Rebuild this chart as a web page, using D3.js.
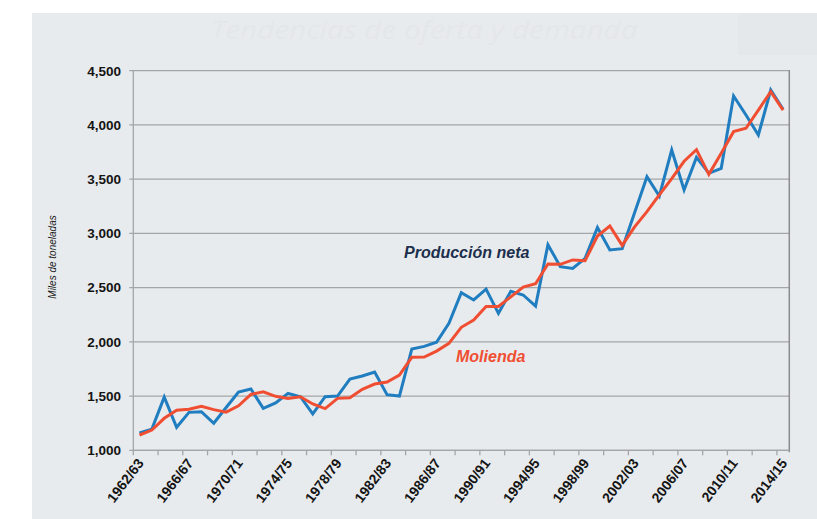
<!DOCTYPE html>
<html>
<head>
<meta charset="utf-8">
<script src="https://cdn.jsdelivr.net/npm/d3@7"></script>
<style>
  html, body { margin: 0; padding: 0; background: #ffffff; }
  svg { display: block; }
</style>
</head>
<body>
<svg id="chart" width="817" height="519"></svg>
<script>
// ---- data ----
const categories = [
  "1962/63","1963/64","1964/65","1965/66","1966/67","1967/68","1968/69","1969/70",
  "1970/71","1971/72","1972/73","1973/74","1974/75","1975/76","1976/77","1977/78",
  "1978/79","1979/80","1980/81","1981/82","1982/83","1983/84","1984/85","1985/86",
  "1986/87","1987/88","1988/89","1989/90","1990/91","1991/92","1992/93","1993/94",
  "1994/95","1995/96","1996/97","1997/98","1998/99","1999/00","2000/01","2001/02",
  "2002/03","2003/04","2004/05","2005/06","2006/07","2007/08","2008/09","2009/10",
  "2010/11","2011/12","2012/13","2013/14","2014/15"
];
const produccionNeta = [
  1160,1195,1490,1212,1350,1356,1249,1395,1537,1565,1387,1437,1525,1494,1335,1494,
  1500,1657,1685,1722,1513,1500,1934,1958,1996,2171,2453,2386,2486,2263,2466,2432,
  2330,2896,2693,2676,2770,3055,2847,2859,3190,3523,3345,3769,3400,3701,3554,3600,
  4267,4092,3907,4322,4144
];
const molienda = [
  1141,1187,1295,1370,1378,1405,1375,1352,1410,1515,1540,1498,1478,1494,1427,1384,
  1479,1485,1562,1611,1630,1694,1857,1860,1915,1986,2134,2201,2326,2326,2415,2505,
  2536,2718,2715,2755,2748,2976,3068,2889,3060,3200,3356,3505,3665,3772,3544,3738,
  3938,3969,4137,4306,4137
];
const yTicks = [1000,1500,2000,2500,3000,3500,4000,4500];
const xLabels = ["1962/63","1966/67","1970/71","1974/75","1978/79","1982/83","1986/87",
  "1990/91","1994/95","1998/99","2002/03","2006/07","2010/11","2014/15"];
const titleText = "Tendencias de oferta y demanda";
const yTitle = "Miles de toneladas";
const seriesLabels = ["Producción neta", "Molienda"];

// ---- layout ----
const svg = d3.select("#chart");
const L = 133.3, R = 789.3, T = 70.7, B = 450.3;
const font = "'Liberation Sans', Arial, sans-serif";

// background panel
svg.append("rect").attr("x", 32).attr("y", 13).attr("width", 817 - 32).attr("height", 519 - 13)
  .attr("fill", "#e8ebed");
svg.append("rect").attr("x", 738).attr("y", 14).attr("width", 79).attr("height", 41)
  .attr("fill", "#e5e8ea");

// faint title
svg.append("text").attr("x", 424).attr("y", 39).attr("text-anchor", "middle")
  .attr("font-family", "'Open Sans', sans-serif").attr("font-style", "italic")
  .attr("font-size", 26).attr("fill", "#e4e7e9")
  .attr("textLength", 427).attr("lengthAdjust", "spacingAndGlyphs")
  .text(titleText);

const x = d3.scaleBand().domain(categories).range([L, R]).padding(0);
const y = d3.scaleLinear().domain([1000, 4500]).range([B, T]);
const bw = x.bandwidth();
const cx = c => x(c) + bw / 2;

// gridlines + left ticks
const gridColor = "#a3a6a8";
svg.append("g").selectAll("line").data(yTicks).join("line")
  .attr("x1", L - 4).attr("x2", R).attr("y1", d => y(d)).attr("y2", d => y(d))
  .attr("stroke", gridColor).attr("stroke-width", 1.3);

// y labels
svg.append("g").selectAll("text").data(yTicks).join("text")
  .attr("x", 121).attr("y", d => y(d)).attr("dy", "0.36em")
  .attr("text-anchor", "end").attr("font-family", font).attr("font-weight", "bold")
  .attr("font-size", 13.5).attr("fill", "#141414")
  .text(d => d3.format(",")(d));

// axes frame
svg.append("line").attr("x1", L).attr("x2", L).attr("y1", T).attr("y2", B)
  .attr("stroke", gridColor).attr("stroke-width", 1.3);
svg.append("line").attr("x1", R).attr("x2", R).attr("y1", T - 0.6).attr("y2", B + 2)
  .attr("stroke", "#8a8d90").attr("stroke-width", 1.5);
svg.append("line").attr("x1", L).attr("x2", R).attr("y1", B).attr("y2", B)
  .attr("stroke", gridColor).attr("stroke-width", 1.3);

// x ticks every 2 categories at band boundaries
const tickIdx = d3.range(0, categories.length, 2);
svg.append("g").selectAll("line").data(tickIdx).join("line")
  .attr("x1", i => x(categories[i])).attr("x2", i => x(categories[i]))
  .attr("y1", B).attr("y2", B + 5)
  .attr("stroke", gridColor).attr("stroke-width", 1.3);

// x labels
svg.append("g").selectAll("text").data(xLabels).join("text")
  .attr("transform", d => `translate(${cx(d) + 1},${B + 10}) rotate(-53)`)
  .attr("text-anchor", "end").attr("dy", "0.35em")
  .attr("font-family", font).attr("font-weight", "bold")
  .attr("font-size", 14).attr("fill", "#141414")
  .text(d => d);

// y title
svg.append("text").attr("transform", `translate(56,257) rotate(-90)`)
  .attr("text-anchor", "middle").attr("font-family", font).attr("font-style", "italic")
  .attr("font-size", 10).attr("fill", "#1a1a1a").text(yTitle);

// lines
const line = d3.line().x((d, i) => cx(categories[i])).y(d => y(d));
svg.append("path").datum(produccionNeta).attr("d", line)
  .attr("fill", "none").attr("stroke", "#1f7dc0").attr("stroke-width", 3)
  .attr("stroke-linejoin", "miter");
svg.append("path").datum(molienda).attr("d", line)
  .attr("fill", "none").attr("stroke", "#f04e32").attr("stroke-width", 3)
  .attr("stroke-linejoin", "miter");

// annotations
svg.append("text").attr("x", 404).attr("y", 258)
  .attr("font-family", font).attr("font-weight", "bold").attr("font-style", "italic")
  .attr("font-size", 16).attr("fill", "#1c2f4c").text(seriesLabels[0]);
svg.append("text").attr("x", 456).attr("y", 362)
  .attr("font-family", font).attr("font-weight", "bold").attr("font-style", "italic")
  .attr("font-size", 16).attr("fill", "#f04e32").text(seriesLabels[1]);
</script>
</body>
</html>
